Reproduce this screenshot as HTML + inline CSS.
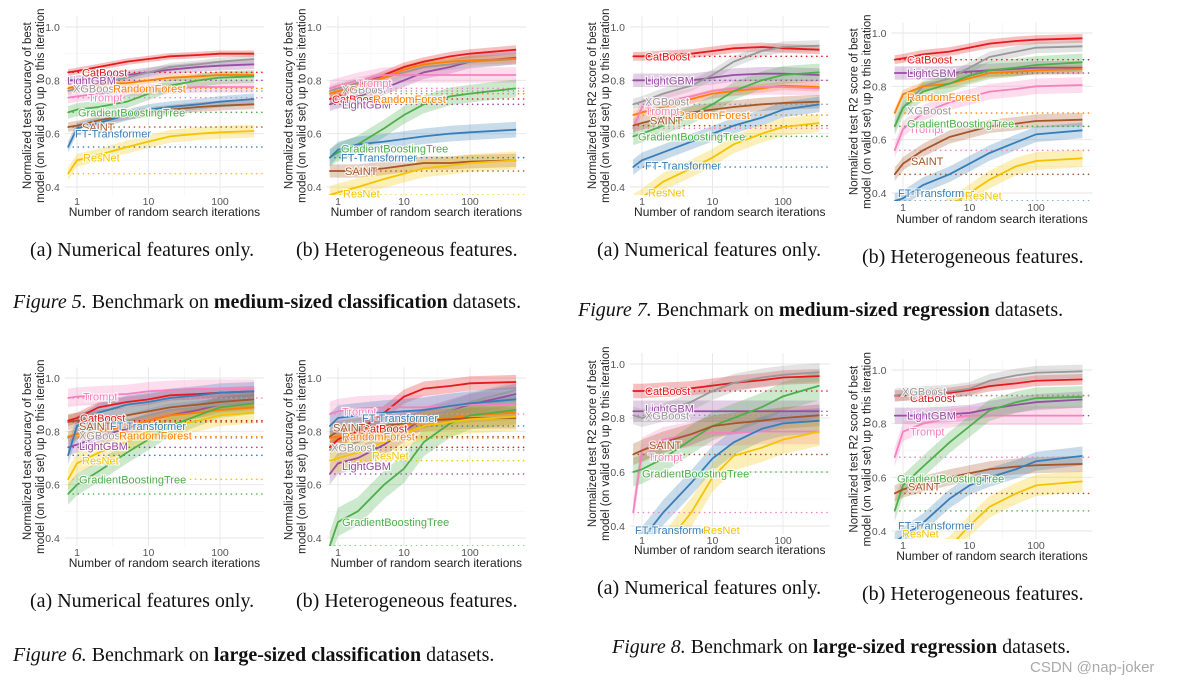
<!DOCTYPE html>
<html><head><meta charset="utf-8"><style>
body{margin:0;background:#fff;width:1180px;height:687px;overflow:hidden;position:relative;font-family:"Liberation Serif",serif}
svg{position:absolute;left:0;top:0}
.cap{position:absolute;font-size:20px;color:#111;white-space:nowrap;line-height:1}
.wm{position:absolute;font-family:"Liberation Sans",sans-serif;font-size:15px;color:#aaa;left:1030px;top:659px}
</style></head><body>
<svg id="chart" width="1180" height="687"></svg>
<div class="cap" style="left:30px;top:240px">(a) Numerical features only.</div>
<div class="cap" style="left:296px;top:240px">(b) Heterogeneous features.</div>
<div class="cap" style="left:13px;top:292px"><i>Figure 5.</i> Benchmark on <b>medium-sized classification</b> datasets.</div>
<div class="cap" style="left:597px;top:240px">(a) Numerical features only.</div>
<div class="cap" style="left:862px;top:247px">(b) Heterogeneous features.</div>
<div class="cap" style="left:578px;top:300px"><i>Figure 7.</i> Benchmark on <b>medium-sized regression</b> datasets.</div>
<div class="cap" style="left:30px;top:591px">(a) Numerical features only.</div>
<div class="cap" style="left:296px;top:591px">(b) Heterogeneous features.</div>
<div class="cap" style="left:13px;top:645px"><i>Figure 6.</i> Benchmark on <b>large-sized classification</b> datasets.</div>
<div class="cap" style="left:597px;top:578px">(a) Numerical features only.</div>
<div class="cap" style="left:862px;top:584px">(b) Heterogeneous features.</div>
<div class="cap" style="left:612px;top:637px"><i>Figure 8.</i> Benchmark on <b>large-sized regression</b> datasets.</div>
<div class="wm">CSDN @nap-joker</div>
<script>
const seriesNames=["CatBoost","LightGBM","XGBoost","RandomForest","Trompt","GradientBoostingTree","SAINT","FT-Transformer","ResNet"];
const seriesColors=["#e41a1c","#984ea3","#999999","#ff7f00","#f781bf","#4daf4a","#a65628","#377eb8","#f5c400"];
const yTicks=[0.4,0.6,0.8,1.0];
const yTickLabels=["0.4","0.6","0.8","1.0"];
const xTicks=[1,10,100];
const xTickLabels=["1","10","100"];
const iterBase=[0.75,1,2,5,10,20,50,100];
const p1Values=[[.83,.835,.85,.87,.88,.89,.895,.9,.9],[.80,.80,.81,.82,.83,.84,.85,.855,.86],[.76,.77,.79,.81,.83,.85,.86,.87,.88],[.77,.78,.785,.79,.80,.81,.815,.82,.82],[.735,.74,.75,.76,.765,.77,.775,.775,.775],[.68,.69,.70,.72,.75,.78,.80,.81,.815],[.625,.63,.65,.67,.68,.69,.70,.705,.71],[.55,.62,.64,.67,.69,.70,.71,.72,.73],[.45,.50,.52,.55,.57,.59,.60,.605,.61]];
const p1Labels=[[82,.83],[67,.80],[73,.77],[113,.77],[88,.735],[78,.68],[82,.625],[75,.60],[83,.51]];
const p2Values=[[.73,.74,.78,.82,.85,.87,.89,.90,.915],[.71,.72,.74,.77,.80,.83,.85,.87,.885],[.76,.77,.79,.81,.83,.85,.86,.87,.88],[.75,.76,.78,.81,.84,.86,.87,.875,.88],[.77,.78,.80,.82,.82,.82,.82,.82,.82],[.51,.53,.56,.62,.67,.71,.74,.75,.77],[.46,.46,.46,.47,.48,.49,.49,.495,.50],[.51,.54,.56,.57,.58,.59,.60,.605,.615],[.37,.38,.40,.43,.45,.47,.48,.49,.50]];
const p2Labels=[[332,.73],[342,.71],[342,.765],[373,.73],[357,.79],[341,.545],[345,.46],[341,.51],[343,.375]];
const p3Values=[[.89,.89,.895,.90,.91,.92,.925,.92,.915],[.80,.80,.80,.80,.81,.82,.825,.825,.82],[.71,.72,.75,.78,.82,.87,.91,.925,.93],[.67,.68,.70,.73,.75,.76,.77,.78,.775],[.62,.70,.72,.74,.76,.77,.775,.775,.77],[.59,.60,.63,.67,.71,.76,.80,.82,.83],[.63,.64,.66,.68,.69,.70,.71,.715,.72],[.475,.50,.53,.57,.60,.63,.66,.69,.71],[.34,.36,.42,.47,.51,.56,.60,.625,.64]];
const p3Labels=[[645,.89],[645,.80],[645,.72],[677,.67],[645,.685],[638,.59],[650,.65],[645,.48],[648,.38]];
const p4Values=[[.90,.905,.92,.93,.945,.96,.97,.975,.98],[.85,.85,.85,.85,.855,.86,.865,.87,.87],[.65,.72,.80,.83,.87,.91,.93,.945,.95],[.70,.77,.80,.81,.83,.85,.855,.86,.865],[.56,.64,.70,.74,.76,.78,.79,.80,.805],[.65,.72,.78,.81,.84,.86,.87,.88,.89],[.47,.51,.56,.61,.63,.65,.66,.67,.675],[.37,.38,.43,.47,.51,.55,.59,.62,.635],[.30,.30,.30,.35,.40,.45,.50,.52,.53]];
const p4Labels=[[907,.90],[907,.85],[907,.71],[907,.76],[909,.64],[907,.66],[911,.52],[898,.40],[965,.39]];
const p5Values=[[.84,.85,.89,.91,.92,.935,.94,.945,.95],[.74,.75,.78,.81,.84,.86,.88,.90,.91],[.775,.79,.82,.84,.86,.88,.89,.90,.91],[.78,.79,.80,.82,.84,.86,.87,.88,.89],[.925,.93,.935,.94,.95,.955,.96,.96,.96],[.565,.60,.65,.72,.77,.82,.86,.89,.905],[.835,.84,.85,.86,.875,.89,.90,.91,.92],[.71,.82,.87,.90,.91,.925,.935,.945,.95],[.62,.68,.72,.76,.80,.82,.84,.86,.87]];
const p5Labels=[[80,.85],[79,.745],[79,.785],[119,.785],[83,.93],[79,.62],[79,.82],[110,.82],[82,.69]];
const p6Values=[[.74,.77,.80,.87,.93,.96,.97,.98,.985],[.64,.68,.70,.75,.80,.85,.88,.90,.94],[.73,.74,.76,.79,.82,.85,.88,.91,.955],[.775,.78,.79,.80,.82,.84,.85,.86,.87],[.865,.875,.885,.89,.89,.89,.895,.9,.9],[.37,.46,.50,.60,.66,.76,.83,.86,.88],[.78,.80,.81,.82,.83,.84,.845,.85,.85],[.82,.85,.86,.87,.875,.88,.895,.905,.92],[.69,.70,.72,.76,.79,.82,.835,.845,.855]];
const p6Labels=[[362,.81],[342,.67],[331,.74],[342,.78],[342,.875],[342,.46],[333,.815],[362,.85],[372,.71]];
const p7Values=[[.90,.90,.905,.91,.92,.93,.94,.95,.955],[.825,.825,.825,.825,.825,.825,.825,.825,.825],[.81,.80,.82,.86,.90,.93,.95,.96,.97],null,[.45,.68,.72,.74,.745,.745,.75,.75,.75],[.60,.61,.65,.72,.77,.80,.84,.88,.92],[.665,.68,.71,.74,.77,.78,.79,.80,.81],[.30,.35,.45,.56,.65,.71,.76,.78,.79],[.25,.28,.32,.45,.58,.66,.69,.72,.75]];
const p7Labels=[[645,.90],[645,.835],[645,.81],null,[648,.655],[642,.595],[649,.70],[635,.385],[703,.385]];
const p8Values=[[.905,.905,.91,.915,.925,.94,.95,.96,.965],[.83,.83,.83,.835,.84,.855,.87,.88,.89],[.905,.91,.915,.92,.93,.96,.98,.99,.995],null,[.675,.77,.80,.82,.83,.83,.83,.83,.83],[.475,.57,.64,.73,.79,.85,.88,.895,.90],[.54,.555,.575,.60,.615,.63,.64,.645,.65],[.36,.38,.43,.52,.57,.60,.63,.66,.68],[.28,.28,.30,.34,.42,.49,.54,.57,.585]];
const p8Labels=[[910,.895],[907,.83],[902,.92],null,[910,.77],[897,.595],[908,.565],[898,.42],[902,.39]];
const bandWidths=[0.02,0.03,0.025,0.02,0.035,0.04,0.03,0.035,0.04,0.035];

const panels=[
 {id:"fig5a",vals:p1Values,labs:p1Labels,end:300,x1:77,dec:71.5,yA:27,yB:187,yt:"accuracy",xt:216,band:.018},
 {id:"fig5b",vals:p2Values,labs:p2Labels,end:500,x1:338,dec:66,yA:27,yB:187,yt:"accuracy",xt:216,band:.025},
 {id:"fig7a",vals:p3Values,labs:p3Labels,end:330,x1:642,dec:70.5,yA:27,yB:187,yt:"R2",xt:216,band:.025},
 {id:"fig7b",vals:p4Values,labs:p4Labels,end:500,x1:903,dec:66.5,yA:33,yB:193,yt:"R2",xt:223,band:.025},
 {id:"fig6a",vals:p5Values,labs:p5Labels,end:300,x1:77,dec:71.5,yA:378,yB:538,yt:"accuracy",xt:567,band:.03},
 {id:"fig6b",vals:p6Values,labs:p6Labels,end:500,x1:338,dec:66,yA:378,yB:538,yt:"accuracy",xt:567,band:.04},
 {id:"fig8a",vals:p7Values,labs:p7Labels,end:330,x1:642,dec:70.5,yA:364,yB:526,yt:"R2",xt:554,band:.04},
 {id:"fig8b",vals:p8Values,labs:p8Labels,end:500,x1:903,dec:66.5,yA:370,yB:531,yt:"R2",xt:560,band:.03}
];
const NS="http://www.w3.org/2000/svg";
const svg=document.getElementById("chart");
function mk(tag,attrs,parent){const e=document.createElementNS(NS,tag);for(const k in attrs)e.setAttribute(k,attrs[k]);(parent||svg).appendChild(e);return e;}
panels.forEach((p,pi)=>{
  const xs=v=>p.x1+Math.log10(v)*p.dec;
  const ys=v=>p.yA+(1-v)/0.6*(p.yB-p.yA);
  const L=xs(0.72)-2,R=xs(p.end)+10,T=ys(1.04),B=ys(0.37);
  const g=mk("g",{});
  
  
  const cp=mk("clipPath",{id:"c"+pi},g);mk("rect",{x:L,y:T,width:R-L,height:B-T},cp);
  [0.5,0.7,0.9].forEach(v=>mk("line",{x1:L,x2:R,y1:ys(v),y2:ys(v),stroke:"#f3f3f3","stroke-width":0.6},g));
  [Math.sqrt(10),Math.sqrt(1000)].forEach(v=>mk("line",{x1:xs(v),x2:xs(v),y1:T,y2:B,stroke:"#f3f3f3","stroke-width":0.6},g));
  yTicks.forEach((v,i)=>{
    mk("line",{x1:L,x2:R,y1:ys(v),y2:ys(v),stroke:"#e6e6e6","stroke-width":0.9},g);
    const t=mk("text",{x:L-5,y:ys(v)+4,"text-anchor":"end","font-family":"Liberation Sans","font-size":10.5,fill:"#555"},g);
    t.textContent=yTickLabels[i];
    
    
  });
  xTicks.forEach((v,i)=>{
    mk("line",{x1:xs(v),x2:xs(v),y1:T,y2:B,stroke:"#e6e6e6","stroke-width":0.9},g);
    const t=mk("text",{x:xs(v),y:B+10,"text-anchor":"middle","font-family":"Liberation Sans","font-size":10.5,fill:"#555"},g);
    t.textContent=xTickLabels[i];
    
    
  });
  const iters=iterBase.concat([p.end]);
  const cg=mk("g",{"clip-path":"url(#c"+pi+")"},g);
  p.vals.forEach((vals,si)=>{ if(!vals)return;
    const bw=p.band*(bandWidths[si]/0.03);
    const up=iters.map((it,k)=>xs(it)+","+ys(Math.min(vals[k]+bw,1.03)));
    const lo=iters.map((it,k)=>xs(it)+","+ys(vals[k]-bw)).reverse();
    const b=mk("polygon",{points:up.concat(lo).join(" "),fill:seriesColors[si],"fill-opacity":0.28},cg);
    
    
  });
  p.vals.forEach((vals,si)=>{ if(!vals)return;
    const l=mk("line",{x1:xs(0.75),x2:xs(p.end)+8,y1:ys(vals[0]),y2:ys(vals[0]),stroke:seriesColors[si],"stroke-width":1.6,"stroke-dasharray":"0.1,5","stroke-linecap":"round"},cg);
    
    
  });
  p.vals.forEach((vals,si)=>{ if(!vals)return;
    const pl=mk("polyline",{points:iters.map((it,k)=>xs(it)+","+ys(vals[k])).join(" "),fill:"none",stroke:seriesColors[si],"stroke-width":1.8},cg);
    
    
  });
  p.labs.forEach((lb,si)=>{ if(!lb)return;
    const t=mk("text",{x:lb[0],y:ys(lb[1])+4,"font-family":"Liberation Sans","font-size":11,fill:seriesColors[si],stroke:"#fff","stroke-width":2.2,"paint-order":"stroke","stroke-opacity":0.85},g);
    t.textContent=seriesNames[si];
    
    
  });
  const cy=(T+B)/2, tx=L-33;
  const l1=p.yt==="R2"?"Normalized test R2 score of best":"Normalized test accuracy of best";
  [[l1,tx-1],["model (on valid set) up to this iteration",tx+12]].forEach(a=>{
    const t=mk("text",{x:a[1],y:cy,"text-anchor":"middle","font-family":"Liberation Sans","font-size":11.5,fill:"#222",transform:"rotate(-90 "+a[1]+" "+cy+")"},g);
    t.textContent=a[0];
    
    
  });
  const xt=mk("text",{x:(L+R)/2,y:p.xt,"text-anchor":"middle","font-family":"Liberation Sans","font-size":12,fill:"#222"},g);
  xt.textContent="Number of random search iterations";
  
  
});
</script>
</body></html>
